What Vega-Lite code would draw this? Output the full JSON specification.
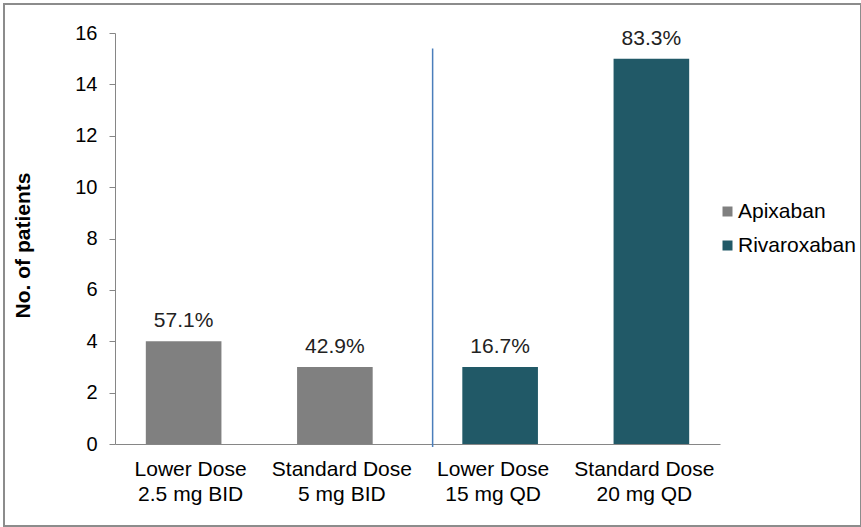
{
  "$schema": "https://vega.github.io/schema/vega-lite/v6.json",
  "width": 857,
  "height": 522,
  "autosize": {"type": "none"},
  "padding": {"left": 4, "top": 4, "right": 0, "bottom": 1},
  "background": "white",
  "config": {
    "font": "Liberation Sans",
    "view": {"stroke": "#8c8c8c", "strokeWidth": 2}
  },
  "datasets": {
    "doses": [
      {"dose": "Lower Dose|2.5 mg BID", "drug": "Apixaban", "patients": 4, "pct": "57.1%"},
      {"dose": "Standard Dose|5 mg BID", "drug": "Apixaban", "patients": 3, "pct": "42.9%"},
      {"dose": "Lower Dose|15 mg QD", "drug": "Rivaroxaban", "patients": 3, "pct": "16.7%"},
      {"dose": "Standard Dose|20 mg QD", "drug": "Rivaroxaban", "patients": 15, "pct": "83.3%"}
    ],
    "divider": [
      {"dose": "Lower Dose|15 mg QD", "top": 15.4, "bottom": -0.12}
    ]
  },
  "layer": [
    {
      "data": {"name": "doses"},
      "mark": {
        "type": "bar",
        "width": {"band": 0.5},
        "xOffset": {"expr": "datum.drug === 'Apixaban' ? -7 : 7"}
      },
      "encoding": {
        "x": {
          "field": "dose",
          "type": "nominal",
          "scale": {
            "domain": ["Lower Dose|2.5 mg BID", "Standard Dose|5 mg BID", "Lower Dose|15 mg QD", "Standard Dose|20 mg QD"],
            "range": [111, 716],
            "paddingInner": 0,
            "paddingOuter": 0
          },
          "axis": {
            "title": null,
            "offset": -82,
            "ticks": false,
            "labelAngle": 0,
            "labelExpr": "split(datum.label, '|')",
            "labelFontSize": 21,
            "labelLineHeight": 25,
            "labelPadding": 14,
            "labelColor": "#000000",
            "domainColor": "#868686",
            "domainWidth": 1
          }
        },
        "y": {
          "field": "patients",
          "type": "quantitative",
          "scale": {"domain": [0, 16], "range": [440, 29], "nice": false},
          "axis": {
            "title": "No. of patients",
            "values": [0, 2, 4, 6, 8, 10, 12, 14, 16],
            "offset": -111,
            "grid": false,
            "domainColor": "#868686",
            "tickColor": "#868686",
            "tickSize": 6,
            "labelPadding": 12,
            "labelFontSize": 20,
            "labelColor": "#000000",
            "titleFontSize": 21,
            "titleFontWeight": "bold",
            "titleColor": "#000000",
            "titleX": -92,
            "titleY": 241,
            "titleAngle": 270,
            "titleAlign": "center",
            "titleBaseline": "middle"
          }
        },
        "color": {
          "field": "drug",
          "type": "nominal",
          "scale": {"domain": ["Apixaban", "Rivaroxaban"], "range": ["#808080", "#215967"]},
          "legend": {
            "title": null,
            "orient": "none",
            "legendX": 713,
            "legendY": 197,
            "symbolType": "square",
            "symbolSize": 100,
            "symbolStrokeWidth": 0,
            "labelFontSize": 21,
            "labelOffset": 0,
            "labelColor": "#000000",
            "rowPadding": 12
          }
        }
      }
    },
    {
      "data": {"name": "doses"},
      "mark": {
        "type": "text",
        "baseline": "alphabetic",
        "dy": -14,
        "fontSize": 21,
        "color": "#222222",
        "xOffset": {"expr": "datum.drug === 'Apixaban' ? -7 : 7"}
      },
      "encoding": {
        "x": {"field": "dose", "type": "nominal"},
        "y": {"field": "patients", "type": "quantitative"},
        "text": {"field": "pct"}
      }
    },
    {
      "data": {"name": "divider"},
      "mark": {"type": "rule", "color": "#4A7EBB", "strokeWidth": 1.5},
      "encoding": {
        "x": {"field": "dose", "type": "nominal", "bandPosition": 0.1},
        "y": {"field": "top", "type": "quantitative"},
        "y2": {"field": "bottom"}
      }
    }
  ]
}
